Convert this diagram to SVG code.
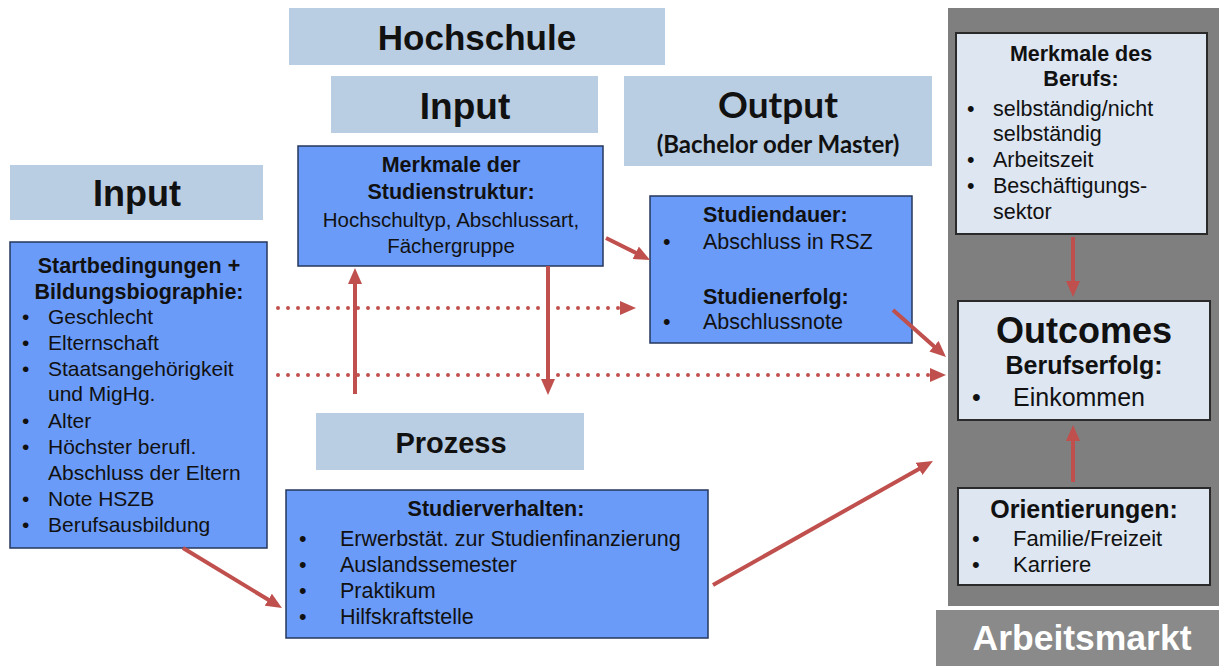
<svg xmlns="http://www.w3.org/2000/svg" width="1219" height="666" viewBox="0 0 1219 666">
<style>
.hdr{fill:#b9cde3}
.blue{fill:#6b9bf8;stroke:#25375c;stroke-width:1.5}
.light{fill:#dde6f1;stroke:#2a2a2a;stroke-width:2}
text{font-family:"Liberation Sans",Arial,sans-serif;fill:#111}
.b{font-weight:bold}
.c{text-anchor:middle}
.cal{font-family:Lato,"Open Sans",sans-serif;font-weight:bold}
.arr{stroke:#c0504d;stroke-width:4;fill:none;marker-end:url(#ah)}
.dot{stroke:#c0504d;stroke-width:4;fill:none;stroke-dasharray:0 10;stroke-linecap:round;marker-end:url(#ah)}
</style>
<defs>
<marker id="ah" markerUnits="userSpaceOnUse" markerWidth="16" markerHeight="14" refX="4" refY="7" orient="auto">
<path d="M0,0 L16,7 L0,14 Z" fill="#c0504d"/>
</marker>
</defs>
<rect width="1219" height="666" fill="#fff"/>

<g id="arbeitsmarkt-panel">
<rect x="948" y="8" width="271" height="598" fill="#7f7f7f"/>
<rect x="936" y="610" width="283" height="56" fill="#8a8a8a"/>
<text class="b c" x="1082" y="650" font-size="35.5" style="fill:#fff">Arbeitsmarkt</text>
</g>

<g id="hochschule">
<rect class="hdr" x="289" y="8" width="376" height="57"/>
<text class="b c" x="477" y="50" font-size="35">Hochschule</text>
</g>
<g id="input-hs">
<rect class="hdr" x="331" y="76" width="267" height="57"/>
<text class="b c" x="465" y="119" font-size="37">Input</text>
</g>
<g id="output">
<rect class="hdr" x="624" y="76" width="308" height="90"/>
<text class="c cal" x="778" y="118" font-size="37">Output</text>
<text class="c cal" x="778" y="153" font-size="24">(Bachelor oder Master)</text>
</g>
<g id="input-left">
<rect class="hdr" x="10" y="165" width="253" height="55"/>
<text class="b c" x="137" y="206" font-size="36">Input</text>
</g>
<g id="prozess">
<rect class="hdr" x="316" y="413" width="268" height="57"/>
<text class="b c" x="451" y="453" font-size="29">Prozess</text>
</g>

<g id="startbedingungen">
<rect class="blue" x="10" y="242" width="257" height="306"/>
<text class="b c" x="139" y="273" font-size="21.5">Startbedingungen +</text>
<text class="b c" x="139" y="299" font-size="21.5">Bildungsbiographie:</text>
<g font-size="21">
<text x="22" y="324">•</text><text x="48" y="324">Geschlecht</text>
<text x="22" y="350">•</text><text x="48" y="350">Elternschaft</text>
<text x="22" y="376">•</text><text x="48" y="376">Staatsangehörigkeit</text>
<text x="48" y="401">und MigHg.</text>
<text x="22" y="428">•</text><text x="48" y="428">Alter</text>
<text x="22" y="454">•</text><text x="48" y="454">Höchster berufl.</text>
<text x="48" y="480">Abschluss der Eltern</text>
<text x="22" y="506">•</text><text x="48" y="506">Note HSZB</text>
<text x="22" y="532">•</text><text x="48" y="532">Berufsausbildung</text>
</g>
</g>

<g id="studienstruktur">
<rect class="blue" x="298" y="146" width="305" height="120"/>
<text class="b c" x="451" y="172" font-size="21.5">Merkmale der</text>
<text class="b c" x="451" y="199" font-size="21.5">Studienstruktur:</text>
<text class="c" x="451" y="227" font-size="20.5">Hochschultyp, Abschlussart,</text>
<text class="c" x="451" y="253" font-size="20.5">Fächergruppe</text>
</g>

<g id="studiendauer">
<rect class="blue" x="650" y="196" width="262" height="147"/>
<g font-size="21.5">
<text class="b" x="703" y="222">Studiendauer:</text>
<text x="663" y="249">•</text><text x="703" y="249">Abschluss in RSZ</text>
<text class="b" x="703" y="304">Studienerfolg:</text>
<text x="663" y="329">•</text><text x="703" y="329">Abschlussnote</text>
</g>
</g>

<g id="studierverhalten">
<rect class="blue" x="286" y="490" width="422" height="148"/>
<g font-size="21.5">
<text class="b c" x="496" y="516">Studierverhalten:</text>
<text x="299" y="546">•</text><text x="340" y="546">Erwerbstät. zur Studienfinanzierung</text>
<text x="299" y="572">•</text><text x="340" y="572">Auslandssemester</text>
<text x="299" y="598">•</text><text x="340" y="598">Praktikum</text>
<text x="299" y="624">•</text><text x="340" y="624">Hilfskraftstelle</text>
</g>
</g>

<g id="merkmale-beruf">
<rect class="light" x="956" y="33" width="251" height="201"/>
<g font-size="21.5">
<text class="b c" x="1081" y="61">Merkmale des</text>
<text class="b c" x="1081" y="86">Berufs:</text>
<text x="967" y="116">•</text><text x="993" y="116">selbständig/nicht</text>
<text x="993" y="141">selbständig</text>
<text x="967" y="167">•</text><text x="993" y="167">Arbeitszeit</text>
<text x="967" y="193">•</text><text x="993" y="193">Beschäftigungs-</text>
<text x="993" y="219">sektor</text>
</g>
</g>

<g id="outcomes">
<rect class="light" x="958" y="301" width="252" height="119"/>
<text class="b c" x="1084" y="343" font-size="36">Outcomes</text>
<text class="b c" x="1084" y="374" font-size="25">Berufserfolg:</text>
<text x="972" y="406" font-size="25">•</text><text x="1013" y="406" font-size="25">Einkommen</text>
</g>

<g id="orientierungen">
<rect class="light" x="958" y="488" width="252" height="97"/>
<text class="b c" x="1084" y="518" font-size="25">Orientierungen:</text>
<g font-size="22">
<text x="972" y="546">•</text><text x="1013" y="546">Familie/Freizeit</text>
<text x="972" y="572">•</text><text x="1013" y="572">Karriere</text>
</g>
</g>

<g id="connectors">
<path class="arr" d="M183,548 L271.7,601.8"/>
<path class="arr" d="M606,238 L639.3,254.6"/>
<path class="arr" d="M355,394 L355,280"/>
<path class="arr" d="M548,266 L548,383"/>
<path class="dot" d="M278,308 L624,308"/>
<path class="dot" d="M278,375 L934,375"/>
<path class="arr" d="M893,310 L937,349"/>
<path class="arr" d="M713,585 L922.5,466.9"/>
<path class="arr" d="M1073,237 L1073,285"/>
<path class="arr" d="M1073,482 L1073,437"/>
</g>
</svg>
